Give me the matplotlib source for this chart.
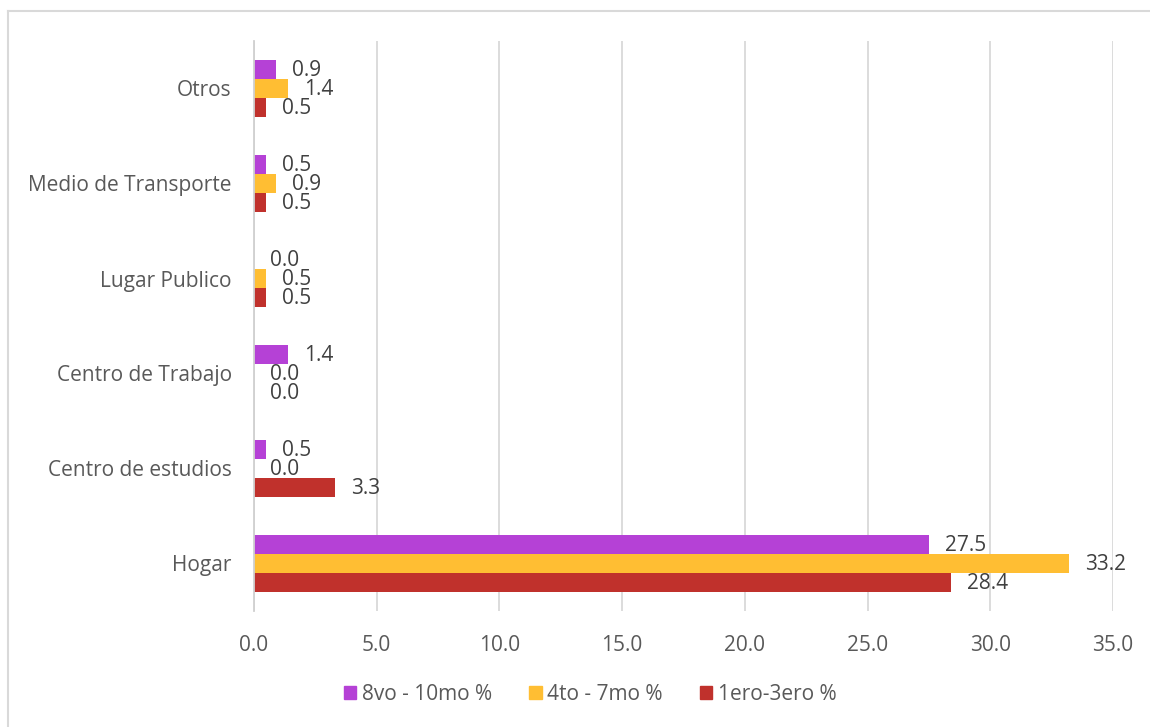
import matplotlib
matplotlib.use("Agg")
import matplotlib.pyplot as plt
import numpy as np
from matplotlib.lines import Line2D

categories = ["Hogar", "Centro de estudios", "Centro de Trabajo",
              "Lugar Publico", "Medio de Transporte", "Otros"]
series_names = ["8vo - 10mo %", "4to - 7mo %", "1ero-3ero %"]
vals_8_10 = [27.5, 0.5, 1.4, 0.0, 0.5, 0.9]
vals_4_7 = [33.2, 0.0, 0.0, 0.5, 0.9, 1.4]
vals_1_3 = [28.4, 3.3, 0.0, 0.5, 0.5, 0.5]
colors = ["#B541D6", "#FFBE33", "#C0312C"]
xticks = [0, 5, 10, 15, 20, 25, 30, 35]

plt.rcParams["font.family"] = ["Open Sans", "DejaVu Sans"]
FS = 15

fig = plt.figure(figsize=(11.5, 7.27), dpi=100)
ax = fig.add_axes([254 / 1150, 1 - 611 / 727, (1113 - 254) / 1150, (611 - 41) / 727])

y = np.arange(len(categories))
h = 0.2
offsets = [h, 0, -h]
all_vals = [vals_8_10, vals_4_7, vals_1_3]
for vals, off, col, name in zip(all_vals, offsets, colors, series_names):
    bars = ax.barh(y + off, vals, height=h, color=col, label=name, zorder=3)
    for rect, v in zip(bars, vals):
        ax.annotate(f"{v:.1f}", (v, rect.get_y() + rect.get_height() / 2),
                    xytext=(11.5, -1), textcoords="offset points",
                    ha="left", va="center", fontsize=FS, color="#404040")

ax.set_xlim(0, 35)
ax.set_ylim(-0.5, len(categories) - 0.5)
ax.set_xticks(xticks)
ax.set_xticklabels([f"{t:.1f}" for t in xticks])
ax.set_yticks(y)
ax.set_yticklabels(categories)
ax.tick_params(axis="both", length=0, labelsize=FS, labelcolor="#595959")
ax.tick_params(axis="y", pad=16)
ax.tick_params(axis="x", pad=17)
ax.grid(axis="x", color="#D9D9D9", linewidth=1.3, zorder=0)
for s in ["top", "right", "bottom"]:
    ax.spines[s].set_visible(False)
ax.spines["left"].set_color("#D0D0D0")
ax.spines["left"].set_linewidth(1.3)
ax.spines["left"].set_zorder(4)

handles = [plt.Rectangle((0, 0), 1, 1, color=c) for c in colors]
fig.legend(handles, series_names, loc="center", bbox_to_anchor=(590 / 1150, 1 - 694 / 727),
           ncol=3, frameon=False, fontsize=FS, labelcolor="#595959",
           handlelength=0.6, handleheight=0.6, handletextpad=0.25, columnspacing=1.8)

# chart area border (top and left edges)
fig.add_artist(Line2D([8 / 1150, 8 / 1150], [0, 1 - 11 / 727], transform=fig.transFigure,
                      color="#D9D9D9", linewidth=1.5))
fig.add_artist(Line2D([8 / 1150, 1], [1 - 11 / 727, 1 - 11 / 727], transform=fig.transFigure,
                      color="#D9D9D9", linewidth=1.5))

fig.savefig("out.png", dpi=100)
